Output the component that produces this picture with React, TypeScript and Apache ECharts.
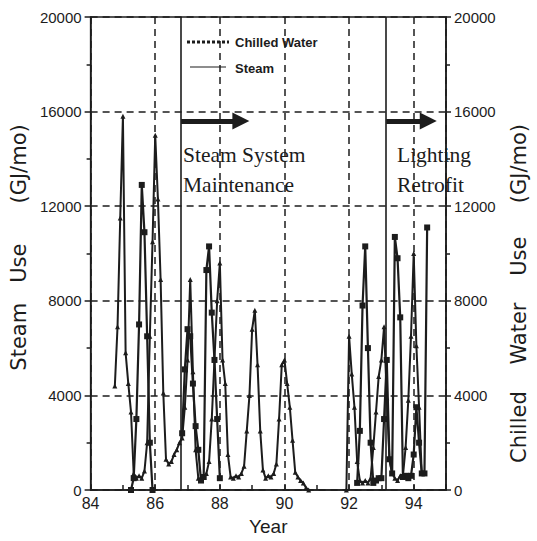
import React, { useEffect, useRef } from "react";
import * as echarts from "echarts";

// ---- Data (monthly use, GJ/mo) ----
// Steam use, first block starts Oct 1984
const steamStart1 = { year: 84, month: 10 };
const steamValues1 = [
  4400, 6900, 11500, 15800, 5800, 4500, 3300, 700, 500, 600, 500, 800,
  2000, 6500, 10500, 15000, 12300, 8900, 4100, 1300, 1100, 1200, 1500, 1700,
  2000, 2200, 3500, 5500, 8900, 5000, 1700, 500, 450, 550, 700, 1200,
  3000, 5500, 8000, 9600, 5500, 4500, 1500, 550, 500, 600, 550, 700,
  1000, 2500, 4000, 6800, 7600, 5300, 2500, 850, 500, 600, 550, 700,
  1100, 3000, 5300, 5500, 4500, 3500, 2100, 750, 550, 400, 300, 100, 0,
];
// Steam use, second block starts Dec 1991
const steamStart2 = { year: 91, month: 12 };
const steamValues2 = [
  0, 6500, 4900, 3500, 1200, 400, 300, 400, 300, 500, 1800, 3300,
  4800, 5500, 6900, 3900, 1300, 700, 500, 400, 600, 600, 1800, 3800,
  6500, 10000, 6100, 3500, 700, 700,
];
// Chilled water use, three blocks
const chilledStart1 = { year: 85, month: 4 };
const chilledValues1 = [0, 500, 3000, 7000, 12900, 10900, 6500, 2000, 0];
const chilledStart2 = { year: 86, month: 11 };
const chilledValues2 = [
  2400, 5100, 6800, 6500, 4500, 2700, 1700, 400, 550, 9300, 10300, 7500, 5500, 3000, 500,
];
const chilledStart3 = { year: 92, month: 4 };
const chilledValues3 = [
  300, 2500, 7800, 10300, 6000, 2000, 300, 400, 500, 500, 3000, 5500,
  1300, 700, 10700, 9800, 7300, 550, 600, 500, 600, 1500, 3500, 2000,
  700, 700, 11100,
];

// Events (year) and annotation arrows
const eventYears = [86.8, 93.15];
const eventArrowEnds = [88.65, 94.45];
const arrowLevel = 15600;

const xTickLabels = [84, 86, 88, 90, 92, 94];
const yTickLabels = [0, 4000, 8000, 12000, 16000, 20000];

const INK = "#1c1c1c";
const SANS = "'Liberation Sans', Arial, Helvetica, sans-serif";
const SERIF = "'Liberation Serif', 'Times New Roman', serif";
const TITLE = "'DejaVu Sans', sans-serif";

function block(start: { year: number; month: number }, values: number[]) {
  return values.map((v, i) => [start.year + (start.month - 1 + i) / 12, v]);
}
function joinBlocks(blocks: number[][][]) {
  const out: any[] = [];
  blocks.forEach((b, k) => {
    if (k > 0) out.push([b[0][0] - 1 / 24, null]);
    out.push(...b);
  });
  return out;
}

export default function App() {
  const ref = useRef<HTMLDivElement>(null);
  useEffect(() => {
    const chart = echarts.init(ref.current!, null, { renderer: "svg" });
    const steamData = joinBlocks([block(steamStart1, steamValues1), block(steamStart2, steamValues2)]);
    const chilledData = joinBlocks([
      block(chilledStart1, chilledValues1),
      block(chilledStart2, chilledValues2),
      block(chilledStart3, chilledValues3),
    ]);
    const lineSt = { color: INK, width: 1.5 };
    const yMin = yTickLabels[0];
    const yMax = yTickLabels[yTickLabels.length - 1];
    const yInt = yTickLabels[1] - yTickLabels[0];
    const xInt = xTickLabels[1] - xTickLabels[0];

    const option: any = {
      animation: false,
      backgroundColor: "#ffffff",
      grid: { left: 84, right: 82, top: 17, bottom: 51, show: true, borderColor: INK, borderWidth: 1.5 },
      xAxis: {
        type: "value",
        min: xTickLabels[0],
        max: 95,
        interval: xInt,
        axisLine: { show: true, lineStyle: lineSt },
        axisTick: { show: true, inside: true, length: 6, lineStyle: lineSt },
        minorTick: { show: true, splitNumber: 2, length: 5, lineStyle: lineSt },
        axisLabel: {
          color: INK, fontSize: 16, fontFamily: SANS, margin: 5,
          formatter: (v: number) => (xTickLabels.indexOf(v) >= 0 ? String(v) : ""),
        },
        splitLine: { show: true, lineStyle: { color: INK, width: 1.5, type: [7, 5] } },
        name: "Year",
        nameLocation: "middle",
        nameGap: 27,
        nameTextStyle: { color: INK, fontSize: 19, fontFamily: SANS },
      },
      yAxis: [
        {
          type: "value", position: "left", min: yMin, max: yMax, interval: yInt,
          axisLine: { show: true, lineStyle: lineSt },
          axisTick: { show: true, length: 6, lineStyle: lineSt },
          minorTick: { show: true, splitNumber: 2, length: 4, lineStyle: lineSt },
          axisLabel: { color: INK, fontSize: 15, fontFamily: SANS, margin: 9, formatter: (v: number) => String(v) },
          splitLine: { show: true, lineStyle: { color: INK, width: 1.5, type: [7, 5] } },
          name: "Steam   Use      (GJ/mo)",
          nameLocation: "middle",
          nameRotate: 90,
          nameGap: 55,
          nameTextStyle: { color: INK, fontSize: 21, fontFamily: TITLE, padding: [0, 0, 0, 12] },
        },
        {
          type: "value", position: "right", min: yMin, max: yMax, interval: yInt,
          axisLine: { show: true, lineStyle: lineSt },
          axisTick: { show: true, length: 5, lineStyle: lineSt },
          minorTick: { show: true, splitNumber: 2, length: 4, lineStyle: lineSt },
          axisLabel: { color: INK, fontSize: 15, fontFamily: SANS, margin: 8, formatter: (v: number) => String(v) },
          splitLine: { show: false },
          name: "Chilled    Water    Use     (GJ/mo)",
          nameLocation: "middle",
          nameRotate: 90,
          nameGap: 62,
          nameTextStyle: { color: INK, fontSize: 21, fontFamily: TITLE, padding: [0, 80, 0, 0] },
        },
      ],
      series: [
        {
          name: "Chilled Water",
          type: "line",
          yAxisIndex: 1,
          data: chilledData,
          symbol: "rect",
          symbolSize: 6,
          showAllSymbol: true,
          connectNulls: false,
          lineStyle: { color: INK, width: 2.2 },
          itemStyle: { color: INK },
          z: 3,
        },
        {
          name: "Steam",
          type: "line",
          yAxisIndex: 0,
          data: steamData,
          symbol: "triangle",
          symbolSize: 5,
          showAllSymbol: true,
          connectNulls: false,
          lineStyle: { color: INK, width: 2 },
          itemStyle: { color: INK },
          z: 3,
          markLine: {
            silent: true,
            animation: false,
            symbol: "none",
            label: { show: false },
            lineStyle: { color: INK, width: 1.6, type: "solid" },
            data: [
              ...eventYears.map((x) => ({ xAxis: x })),
              ...eventYears.map((x, i) => [
                { coord: [x, arrowLevel], symbol: "none", lineStyle: { color: INK, width: 5, type: "solid" } },
                { coord: [eventArrowEnds[i], arrowLevel], symbol: "triangle", symbolSize: [17, 17], lineStyle: { color: INK, width: 5, type: "solid" } },
              ]),
            ],
          },
        },
      ],
      graphic: [
        // legend
        { type: "line", shape: { x1: 187, y1: 42, x2: 229, y2: 42 }, style: { stroke: INK, lineWidth: 3, lineDash: [3, 2] }, z: 10 },
        { type: "text", x: 235, y: 42, style: { text: "Chilled Water", fill: INK, font: `bold 13px ${SANS}`, verticalAlign: "middle" }, z: 10 },
        { type: "line", shape: { x1: 190, y1: 67, x2: 226, y2: 67 }, style: { stroke: INK, lineWidth: 1.2 }, z: 10 },
        { type: "text", x: 235, y: 68, style: { text: "Steam", fill: INK, font: `bold 13px ${SANS}`, verticalAlign: "middle" }, z: 10 },
        // annotations
        { type: "text", x: 183, y: 140, style: { text: "Steam System\nMaintenance", fill: INK, font: `21.5px ${SERIF}`, lineHeight: 30 }, z: 10 },
        { type: "text", x: 397, y: 140, style: { text: "Lighting\nRetrofit", fill: INK, font: `21.5px ${SERIF}`, lineHeight: 30 }, z: 10 },
      ],
    };
    chart.setOption(option);
    return () => chart.dispose();
  }, []);
  return (
    <div
      ref={ref}
      style={{ position: "absolute", left: 0, top: 0, width: 537, height: 541, background: "#fff" }}
    />
  );
}
